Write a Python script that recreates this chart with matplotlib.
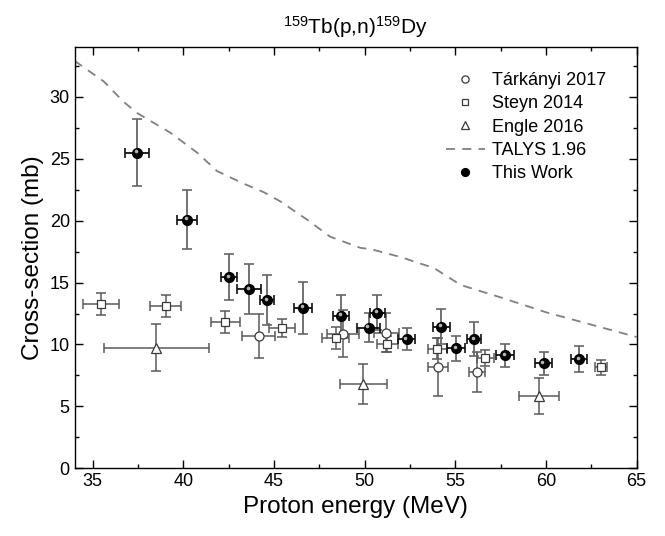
"""
159Tb(p,n)159Dy excitation function: this work vs literature and TALYS 1.96.
"""

import matplotlib
matplotlib.use("Agg")
import matplotlib.pyplot as plt
import matplotlib.transforms as mtransforms
from matplotlib.ticker import MultipleLocator

plt.rcParams["font.family"] = ["Liberation Sans", "DejaVu Sans"]
plt.rcParams["mathtext.fontset"] = "custom"
plt.rcParams["mathtext.rm"] = "Liberation Sans"
plt.rcParams["mathtext.default"] = "regular"

# --- data ---
work_e    = [37.45, 40.20, 42.52, 43.62, 44.62, 46.62, 48.71, 50.22, 50.70,
             52.31, 54.21, 55.04, 56.03, 57.75, 59.87, 61.84]
work_xs   = [25.5, 20.07, 15.44, 14.47, 13.60, 12.98, 12.31, 11.37, 12.58,
             10.45, 11.45, 9.70, 10.45, 9.13, 8.49, 8.81]
work_de   = [0.68, 0.57, 0.44, 0.66, 0.40, 0.50, 0.44, 0.63, 0.40,
             0.48, 0.47, 0.50, 0.37, 0.50, 0.46, 0.44]
work_dxs  = [2.7, 2.4, 1.85, 2.0, 2.0, 2.1, 1.7, 1.2, 1.45,
             0.88, 1.4, 1.0, 1.4, 0.92, 0.93, 1.07]

tark_e    = [44.15, 48.80, 51.19, 54.04, 56.18]
tark_xs   = [10.69, 10.86, 10.96, 8.17, 7.76]
tark_de   = [0.92, 0.90, 0.69, 0.57, 0.44]
tark_dxs  = [1.8, 1.9, 1.6, 2.35, 1.6]

steyn_e   = [35.46, 39.02, 42.31, 45.44, 48.39, 51.25, 54.00, 56.66, 63.03]
steyn_xs  = [13.26, 13.12, 11.80, 11.32, 10.51, 10.05, 9.67, 8.89, 8.16]
steyn_de  = [1.00, 0.87, 0.80, 0.73, 0.75, 0.58, 0.53, 0.48, 0.33]
steyn_dxs = [0.90, 0.87, 0.87, 0.75, 0.90, 0.65, 0.85, 0.65, 0.60]

engle_e   = [38.50, 49.92, 59.62]
engle_xs  = [9.75, 6.79, 5.84]
engle_de  = [2.90, 1.29, 1.10]
engle_dxs = [1.90, 1.60, 1.48]

talys_e   = [34.0, 35.6, 36.7, 37.44, 39.28, 40.75, 41.86, 43.3, 44.43, 45.35,
             46.83, 48.1, 49.77, 50.33, 51.98, 53.82, 55.3, 57.5, 60.0, 62.5, 65.0]
talys_xs  = [32.9, 31.25, 29.6, 28.7, 27.1, 25.5, 24.0, 23.0, 22.3, 21.55,
             20.07, 18.7, 17.8, 17.7, 17.06, 16.17, 14.8, 13.8, 12.6, 11.6, 10.6]

ERR_COLOR = "#5a5a5a"


def open_series(ax, e, xs, de, dxs, marker, ms, label):
    ax.errorbar(e, xs, xerr=de, yerr=dxs, fmt="none", ecolor=ERR_COLOR,
                elinewidth=1.1, capsize=3.4, capthick=1.1, zorder=2)
    ax.plot(e, xs, linestyle="none", marker=marker, ms=ms, mfc="white",
            mec="#3a3a3a", mew=0.9, zorder=4, label=label)


fig = plt.figure(figsize=(6.65, 5.36), dpi=100)
ax = fig.add_axes([0.1122, 0.1263, 0.8452, 0.7855])

open_series(ax, tark_e, tark_xs, tark_de, tark_dxs, "o", 6.5, "Tárkányi 2017")
open_series(ax, steyn_e, steyn_xs, steyn_de, steyn_dxs, "s", 5.2, "Steyn 2014")
open_series(ax, engle_e, engle_xs, engle_de, engle_dxs, "^", 7.2, "Engle 2016")

ax.plot(talys_e, talys_xs, linestyle=(0, (5, 4)), color="#808080", lw=1.3,
        zorder=1, label="TALYS 1.96")

# this work: shaded black spheres, gray vertical bars, black horizontal bars
ax.errorbar(work_e, work_xs, yerr=work_dxs, fmt="none", ecolor="#666666",
            elinewidth=1.3, capsize=3.4, capthick=1.2, zorder=3)
ax.errorbar(work_e, work_xs, xerr=work_de, fmt="none", ecolor="#111111",
            elinewidth=1.3, capsize=3.4, capthick=1.2, zorder=3)
ax.plot(work_e, work_xs, linestyle="none", marker="o", ms=7, mfc="black",
        mec="black", zorder=5, label="This Work")
hl = ax.transData + mtransforms.ScaledTranslation(-1.0 / 72, 1.0 / 72,
                                                 fig.dpi_scale_trans)
ax.plot(work_e, work_xs, linestyle="none", marker="o", ms=2.6, mfc="#b5b5b5",
        mec="none", zorder=6, transform=hl)

ax.set_xlim(34, 65)
ax.set_ylim(0, 34)
ax.xaxis.set_major_locator(MultipleLocator(5))
ax.xaxis.set_minor_locator(MultipleLocator(2.5))
ax.yaxis.set_major_locator(MultipleLocator(5))
ax.yaxis.set_minor_locator(MultipleLocator(2.5))
ax.tick_params(which="both", direction="in", top=True, right=True,
               labeltop=False, labelright=False, width=1.0, labelsize=13)
ax.tick_params(which="major", length=6)
ax.tick_params(which="minor", length=3)
for sp in ax.spines.values():
    sp.set_linewidth(1.0)

ax.set_xlabel("Proton energy (MeV)", fontsize=17.5)
ax.set_ylabel("Cross-section (mb)", fontsize=17.5)
ax.set_title("$^{159}$Tb(p,n)$^{159}$Dy", fontsize=15, pad=10)

ax.legend(loc="upper left", bbox_to_anchor=(0.631, 0.98), frameon=False,
          fontsize=13, markerscale=0.8, handlelength=2.2, handletextpad=0.35,
          labelspacing=0.35)

fig.savefig("out.png", dpi=100)
